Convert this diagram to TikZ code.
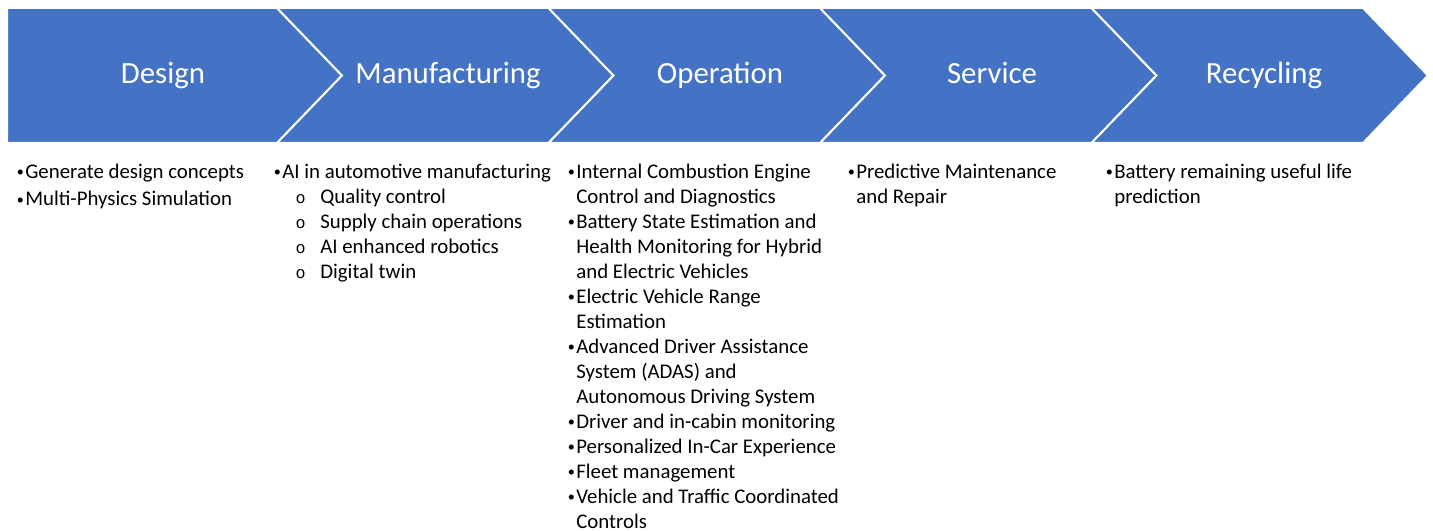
\documentclass[tikz,border=0pt]{standalone}
\usepackage{fontspec}
\setmainfont{Carlito}
\newfontfamily\circfont{Liberation Mono}
\usetikzlibrary{positioning}

\definecolor{stageblue}{HTML}{4472C4}

% bullet and sub-bullet lines
\newcommand{\bul}{\makebox[6pt][c]{\raisebox{0.9pt}{\fontsize{8.5}{9}\selectfont\textbullet}}}
\newcommand{\cont}{\hspace*{6pt}}
\newcommand{\subitm}[1]{\hspace*{14pt}\makebox[14.8pt][l]{\circfont\fontsize{10}{10}\selectfont o}#1}

\begin{document}
\begin{tikzpicture}[x=0.6pt, y=-0.6pt,
    stage/.style={fill=stageblue, draw=white, line width=1.2pt, line join=miter},
    title/.style={anchor=base, text=white, font=\fontsize{18.5}{22}\selectfont},
    list/.style={anchor=base west, inner sep=0pt, align=left, font=\fontsize{12.5}{15}\selectfont}]
  \useasboundingbox (0,0) rectangle (1433,531);

  % chevrons
  \path[stage] (7,8) -- (277,8) -- (342,75.5) -- (277,143) -- (7,143) -- cycle;
  \foreach \i in {1,...,4}{
    \pgfmathsetmacro\a{277+271.5*(\i-1)}
    \path[stage] (\a,8) -- ({\a+271.5},8) -- ({\a+336.5},75.5) -- ({\a+271.5},143)
      -- (\a,143) -- ({\a+65},75.5) -- cycle;
  }

  \node[title] (design) at (163,84) {Design};
  \node[title] (manu) at (448,84) {Manufacturing};
  \node[title] (oper) at (720,84) {Operation};
  \node[title] (serv) at (992,84) {Service};
  \node[title] (recy) at (1264,84) {Recycling};

  % lists under each stage
  \node[list] (designlist) at (15,178.5) {\begin{tabular}[t]{@{}l@{}}
      \bul Generate design concepts\\[1.5pt]
      \bul Multi-Physics Simulation
    \end{tabular}};
  \node[list] (manulist) at (272,178.5) {\begin{tabular}[t]{@{}l@{}}
      \bul AI in automotive manufacturing\\
      \subitm{Quality control}\\
      \subitm{Supply chain operations}\\
      \subitm{AI enhanced robotics}\\
      \subitm{Digital twin}
    \end{tabular}};
  \node[list] (operlist) at (566,178.5) {\begin{tabular}[t]{@{}l@{}}
      \bul Internal Combustion Engine\\
      \cont Control and Diagnostics\\
      \bul Battery State Estimation and\\
      \cont Health Monitoring for Hybrid\\
      \cont and Electric Vehicles\\
      \bul Electric Vehicle Range\\
      \cont Estimation\\
      \bul Advanced Driver Assistance\\
      \cont System (ADAS) and\\
      \cont Autonomous Driving System\\
      \bul Driver and in-cabin monitoring\\
      \bul Personalized In-Car Experience\\
      \bul Fleet management\\
      \bul Vehicle and Traffic Coordinated\\
      \cont Controls
    \end{tabular}};
  \node[list] (servlist) at (846,178.5) {\begin{tabular}[t]{@{}l@{}}
      \bul Predictive Maintenance\\
      \cont and Repair
    \end{tabular}};
  \node[list] (recylist) at (1104,178.5) {\begin{tabular}[t]{@{}l@{}}
      \bul Battery remaining useful life\\
      \cont prediction
    \end{tabular}};
\end{tikzpicture}
\end{document}
